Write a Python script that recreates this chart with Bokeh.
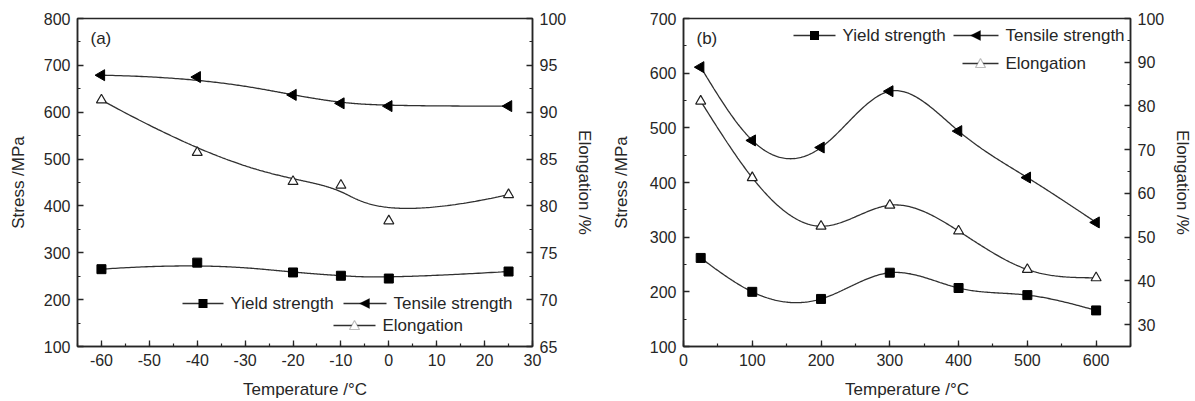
import numpy as np
from bokeh.plotting import figure
from bokeh.models import (Range1d, LinearAxis, SingleIntervalTicker, Label,
                          BoxAnnotation, PolyAnnotation, CustomJSTickFormatter)
from bokeh.layouts import row
from bokeh.embed import file_html
from bokeh.resources import INLINE

# ---- (a) low-temperature tests ----
temp_a = [-60, -40, -20, -10, 0, 25]
yield_a = [265, 279, 258, 251, 245, 260]
tensile_a = [679, 675, 637, 619, 613, 613]
elong_a = [91.3, 85.7, 82.6, 82.2, 78.4, 81.2]

# ---- (b) elevated-temperature tests ----
temp_b = [25, 100, 200, 300, 400, 500, 600]
yield_b = [262, 200, 187, 235, 207, 194, 166]
tensile_b = [611, 477, 464, 567, 494, 409, 327]
elong_b = [81.1, 63.6, 52.5, 57.3, 51.4, 42.6, 40.7]

LEGEND_LABELS = ["Yield strength", "Tensile strength", "Elongation"]

FONT = "Liberation Sans"
INK = "#262626"
LINE = "#303030"


def interp_spline(xs, ys, n=300):
    """Natural cubic spline passing through every point."""
    x = np.asarray(xs, float)
    y = np.asarray(ys, float)
    m = len(x)
    h = np.diff(x)
    A = np.zeros((m, m))
    r = np.zeros(m)
    A[0, 0] = A[-1, -1] = 1.0
    for j in range(1, m - 1):
        A[j, j - 1] = h[j - 1] / 6.0
        A[j, j] = (h[j - 1] + h[j]) / 3.0
        A[j, j + 1] = h[j] / 6.0
        r[j] = (y[j + 1] - y[j]) / h[j] - (y[j] - y[j - 1]) / h[j - 1]
    M = np.linalg.solve(A, r)
    xx = np.linspace(x[0], x[-1], n)
    i = np.clip(np.searchsorted(x, xx, side="right") - 1, 0, m - 2)
    hi = h[i]
    a = x[i + 1] - xx
    b = xx - x[i]
    yy = (M[i] * a ** 3 / (6 * hi) + M[i + 1] * b ** 3 / (6 * hi)
          + (y[i] / hi - M[i] * hi / 6) * a + (y[i + 1] / hi - M[i + 1] * hi / 6) * b)
    return xx, yy


def bspline(xs, ys, n=300):
    """Clamped cubic B-spline using the points as its control polygon."""
    P = np.column_stack([xs, ys]).astype(float)
    m = len(P)
    k = 3
    knots = np.concatenate([np.zeros(k), np.arange(m - k + 1), np.full(k, m - k)]).astype(float)
    t = np.linspace(0, m - k, n)
    t[-1] -= 1e-9
    N = np.array([(knots[i] <= t) & (t < knots[i + 1]) for i in range(len(knots) - 1)], float)
    for d in range(1, k + 1):
        new = np.zeros((len(knots) - 1 - d, n))
        for i in range(len(knots) - 1 - d):
            den1 = knots[i + d] - knots[i]
            den2 = knots[i + d + 1] - knots[i + 1]
            if den1 > 0:
                new[i] += (t - knots[i]) / den1 * N[i]
            if den2 > 0:
                new[i] += (knots[i + d + 1] - t) / den2 * N[i + 1]
        N = new
    C = N.T @ P
    return C[:, 0], C[:, 1]


def style_axis(ax, interval, label, label_standoff):
    ax.ticker = SingleIntervalTicker(interval=interval, num_minor_ticks=2)
    ax.formatter = CustomJSTickFormatter(code="return String(Math.round(tick));")
    ax.axis_line_color = INK
    ax.axis_line_width = 1.5
    ax.major_tick_in = 6
    ax.major_tick_out = 0
    ax.minor_tick_in = 3
    ax.minor_tick_out = 0
    ax.major_tick_line_color = INK
    ax.major_tick_line_width = 1.3
    ax.minor_tick_line_color = INK
    ax.minor_tick_line_width = 1.2
    ax.major_label_text_font = FONT
    ax.major_label_text_font_size = "16px"
    ax.major_label_text_color = INK
    ax.major_label_standoff = 7
    ax.axis_label = label
    ax.axis_label_text_font = FONT
    ax.axis_label_text_font_size = "17px"
    ax.axis_label_text_font_style = "normal"
    ax.axis_label_text_color = INK
    ax.axis_label_standoff = label_standoff


def screen_box(left, right, bottom, top, color):
    return BoxAnnotation(left=left, right=right, bottom=bottom, top=top,
                         left_units="screen", right_units="screen",
                         bottom_units="screen", top_units="screen",
                         fill_color=color, fill_alpha=1.0, line_color=None)


def legend_entry(p, x0, x1, yc, kind, text):
    """Sample line with its marker and the label, placed in frame pixels."""
    p.add_layout(screen_box(x0, x1, yc - 0.65, yc + 0.65, LINE))
    cx = (x0 + x1) / 2.0
    if kind == "square":
        p.add_layout(screen_box(cx - 4.5, cx + 4.5, yc - 4.5, yc + 4.5, "black"))
    elif kind == "left":
        p.add_layout(PolyAnnotation(xs=[cx - 5.5, cx + 4.5, cx + 4.5],
                                    ys=[yc, yc + 5, yc - 5],
                                    xs_units="screen", ys_units="screen",
                                    fill_color="black", fill_alpha=1.0,
                                    line_color="black"))
    else:
        p.add_layout(PolyAnnotation(xs=[cx - 5, cx, cx + 5],
                                    ys=[yc - 4, yc + 5, yc - 4],
                                    xs_units="screen", ys_units="screen",
                                    fill_color="white", fill_alpha=1.0,
                                    line_color="#202020", line_width=1.2))
    p.add_layout(Label(x=x1 + 7, y=yc, x_units="screen", y_units="screen",
                       text=text, text_font=FONT, text_font_size="17px",
                       text_color=INK, text_baseline="middle"))


def panel(width, border_left, border_right, xr, yr, er,
          x_int, y_int, e_int, left_standoff, tag,
          temps, ys, ts, es, curve, legend_rows):
    p = figure(width=width, height=401, x_range=Range1d(*xr), y_range=Range1d(*yr),
               output_backend="svg", toolbar_location=None,
               min_border_left=border_left, min_border_right=border_right,
               min_border_top=18, min_border_bottom=55)
    p.background_fill_color = "white"
    p.border_fill_color = "white"
    p.xgrid.visible = False
    p.ygrid.visible = False
    p.outline_line_color = INK
    p.outline_line_width = 1.5

    style_axis(p.xaxis[0], x_int, "Temperature /°C", 11)
    style_axis(p.yaxis[0], y_int, "Stress /MPa", left_standoff)

    p.extra_y_ranges = {"elong": Range1d(*er)}
    right = LinearAxis(y_range_name="elong")
    style_axis(right, e_int, "Elongation /%", 6)
    p.add_layout(right, "right")

    # yield strength
    sx, sy = curve(temps, ys)
    p.line(sx, sy, line_color=LINE, line_width=1.3)
    p.scatter(temps, ys, marker="square", size=9, fill_color="black", line_color="black")
    # tensile strength
    sx, sy = curve(temps, ts)
    p.line(sx, sy, line_color=LINE, line_width=1.3)
    p.scatter(temps, ts, marker="triangle", angle=np.pi / 2, size=11,
              fill_color="black", line_color="black")
    # elongation on the right-hand scale
    sx, sy = curve(temps, es)
    p.line(sx, sy, line_color=LINE, line_width=1.3, y_range_name="elong")
    p.scatter(temps, es, marker="triangle", size=10, fill_color="white",
              line_color="#202020", line_width=1.2, y_range_name="elong")

    kinds = ["square", "left", "open"]
    for (x0, x1, yc), kind, text in zip(legend_rows, kinds, LEGEND_LABELS):
        legend_entry(p, x0, x1, yc, kind, text)

    p.add_layout(Label(x=13, y=308, x_units="screen", y_units="screen", text=tag,
                       text_font=FONT, text_font_size="17px", text_color=INK,
                       text_baseline="middle"))
    return p


pa = panel(600, 77, 68, (-65, 30), (100, 800), (65, 100), 10, 100, 5, 13, "(a)",
           temp_a, yield_a, tensile_a, elong_a, bspline,
           [(105, 146, 43), (266, 309, 43), (256, 298, 21)])
pb = panel(595, 83, 61, (0, 650), (100, 700), (25, 100), 100, 100, 10, 16, "(b)",
           temp_b, yield_b, tensile_b, elong_b, interp_spline,
           [(110, 152, 311), (270, 315, 311), (279, 315, 283)])

layout = row(pa, pb)
open("out.html", "w").write(file_html(layout, INLINE))
